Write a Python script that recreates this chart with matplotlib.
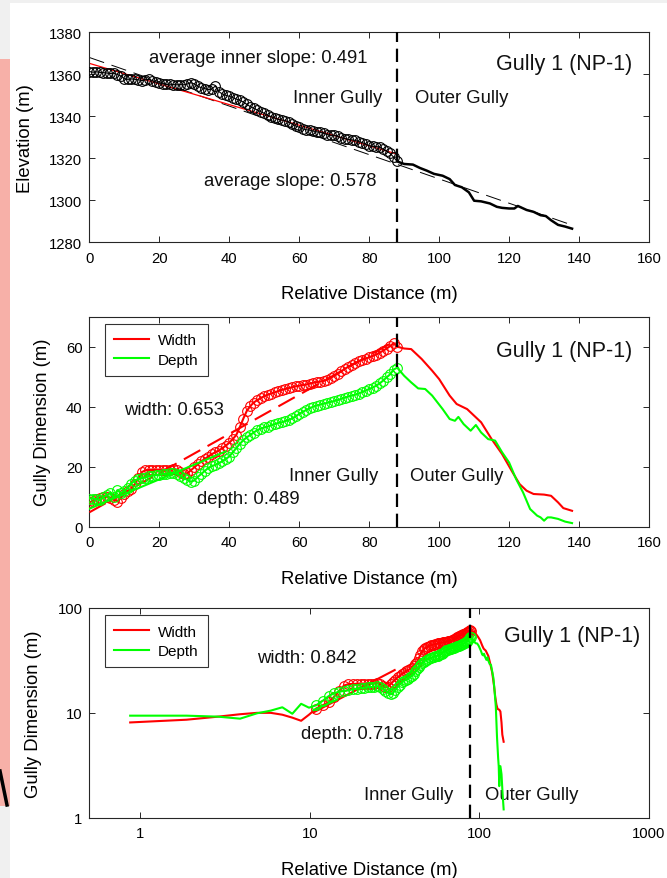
import matplotlib
matplotlib.use("Agg")
import matplotlib.pyplot as plt
from matplotlib.lines import Line2D
from matplotlib.patches import Rectangle
import numpy as np

plt.rcParams['font.family'] = ['Liberation Sans', 'DejaVu Sans']

# ---- data ----
# inner gully samples (m along the gully)
inner_dist = [0, 1, 2, 3, 4, 5, 6, 7, 8, 9, 10, 11, 12, 13, 14, 15, 16, 17, 18, 19,
              20, 21, 22, 23, 24, 25, 26, 27, 28, 29, 30, 31, 32, 33, 34, 35, 36, 37, 38, 39,
              40, 41, 42, 43, 44, 45, 46, 47, 48, 49, 50, 51, 52, 53, 54, 55, 56, 57, 58, 59,
              60, 61, 62, 63, 64, 65, 66, 67, 68, 69, 70, 71, 72, 73, 74, 75, 76, 77, 78, 79,
              80, 81, 82, 83, 84, 85, 86, 87, 88]

inner_elev = [1361.3, 1361.0, 1361.2, 1360.9, 1360.8, 1360.6, 1360.4, 1360.5, 1359.9, 1359.2,
              1357.9, 1357.6, 1357.8, 1357.6, 1357.4, 1357.0, 1357.4, 1357.6, 1357.0, 1356.3,
              1355.8, 1355.5, 1355.2, 1355.3, 1355.1, 1355.0, 1355.1, 1355.0, 1355.4, 1356.0,
              1355.4, 1354.3, 1353.6, 1353.2, 1352.7, 1353.0, 1354.4, 1351.8, 1350.6, 1350.0,
              1349.5, 1348.9, 1348.2, 1347.6, 1346.8, 1345.7, 1344.6, 1343.8, 1343.0, 1342.2,
              1341.4, 1340.5, 1339.8, 1339.2, 1338.5, 1338.2, 1338.0, 1337.2, 1336.3, 1335.4,
              1334.8, 1334.0, 1333.6, 1333.4, 1333.0, 1332.6, 1332.4, 1331.9, 1331.3, 1330.9,
              1331.0, 1330.4, 1329.8, 1329.4, 1329.0, 1328.8, 1328.5, 1328.0, 1327.5, 1326.8,
              1326.0, 1325.7, 1325.6, 1325.3, 1324.4, 1323.4, 1322.3, 1320.5, 1318.5]

inner_width = [8.1, 8.6, 9.2, 9.7, 10.0, 10.0, 9.6, 9.0, 8.4, 9.6,
               11.0, 11.8, 12.6, 14.2, 16.2, 18.2, 18.8, 18.9, 18.9, 18.9,
               18.9, 18.9, 19.0, 19.0, 19.2, 19.0, 18.2, 17.6, 17.8, 18.8,
               19.8, 20.8, 21.8, 22.6, 23.4, 24.2, 24.8, 25.4, 26.2, 27.0,
               28.0, 29.2, 30.6, 33.2, 36.0, 38.6, 40.2, 41.4, 42.2, 42.9,
               43.5, 44.0, 44.4, 44.8, 45.2, 45.6, 45.9, 46.2, 46.5, 46.8,
               47.0, 47.2, 47.4, 47.7, 48.0, 48.2, 48.4, 48.6, 49.0, 49.6,
               50.3, 51.0, 51.8, 52.6, 53.3, 54.0, 54.6, 55.1, 55.6, 56.0,
               56.5, 56.9, 57.4, 58.0, 58.7, 59.4, 60.2, 61.2, 60.0]

inner_depth = [9.4, 9.4, 9.2, 8.8, 9.9, 10.5, 11.3, 9.8, 12.2, 11.2,
               11.8, 13.0, 14.4, 15.4, 15.9, 16.2, 16.4, 16.8, 17.0, 17.2,
               17.3, 17.5, 17.6, 17.8, 18.0, 17.6, 17.0, 16.2, 15.6, 15.0,
               15.4, 16.6, 17.6, 18.6, 19.6, 20.2, 20.6, 21.2, 21.8, 22.6,
               23.4, 24.8, 26.2, 27.6, 28.8, 29.8, 30.6, 31.4, 32.2, 32.7,
               33.1, 33.4, 33.8, 34.2, 34.6, 34.8, 35.2, 35.6, 36.1, 36.8,
               37.6, 38.3, 38.9, 39.5, 40.0, 40.4, 40.7, 41.0, 41.3, 41.6,
               41.9, 42.2, 42.6, 43.0, 43.4, 43.7, 44.0, 44.4, 44.9, 45.4,
               45.9, 46.4, 47.0, 47.8, 48.7, 49.8, 50.8, 52.4, 53.0]

# outer gully
outer_dist_elev = [88, 90, 92.5, 94.5, 96.5, 98.5, 101, 103, 104.5, 106.5, 108.5, 110, 112,
                   114.5, 116.5, 118, 120, 121.5, 122.5, 125, 127, 129, 130.5, 132, 134, 136, 138]
outer_elev = [1318.5, 1317.3, 1317.0, 1315.4, 1314.1, 1312.6, 1311.7, 1310.1, 1307.3, 1306.2,
              1303.8, 1299.8, 1299.5, 1298.5, 1296.9, 1296.4, 1296.1, 1296.1, 1297.3, 1295.4,
              1294.5, 1292.9, 1292.5, 1290.5, 1288.3, 1287.5, 1286.5]

outer_dist_width = [88, 90, 92, 95, 98, 100, 103, 105, 108, 112, 115, 118, 121, 123, 125,
                    127, 130, 132, 134, 135.5, 138]
outer_width = [60.0, 59.4, 59.2, 55.9, 52.0, 49.2, 43.7, 40.9, 39.2, 34.8, 29.2, 24.2, 18.1,
               14.2, 12.0, 10.9, 10.7, 10.3, 8.1, 6.2, 5.3]

outer_dist_depth = [88, 90, 92, 94, 96, 98, 101, 103, 104.5, 105.5, 107, 109, 110.5, 112, 114,
                    116, 118, 120, 122, 124, 126, 128, 129, 130, 131, 132, 134, 136, 138]
outer_depth = [53.0, 50.3, 48.1, 46.1, 45.9, 43.7, 39.2, 35.9, 35.3, 36.6, 34.2, 32.0, 33.9,
               31.4, 29.2, 28.7, 24.8, 21.4, 15.9, 11.4, 5.9, 3.7, 3.1, 2.0, 3.1, 3.1, 2.6,
               1.7, 1.2]

# fitted lines (end points)
fit_all_x, fit_all_y = [0, 138], [1368.0, 1288.2]        # average slope 0.578
fit_inner_x, fit_inner_y = [0, 88], [1365.2, 1322.0]     # average inner slope 0.491
fit_w_x, fit_w_y = [0, 88], [4.8, 62.3]                  # width 0.653
fit_d_x, fit_d_y = [0, 39], [6.0, 25.1]                  # depth 0.489
fit_wlog_x, fit_wlog_y = [10.5, 31.6], [10.1, 25.6]      # width 0.842
fit_dlog_x, fit_dlog_y = [10.5, 14.5], [10.6, 13.4]      # depth 0.718

boundary = 88
log_offset = 0.87   # first sample sits at 0.87 m on the log plot

RED = (1, 0, 0)
GREEN = (0, 1, 0)
AX_COL = '#262626'

# ---- figure ----
W, H = 667, 879
fig = plt.figure(figsize=(W / 100, H / 100), dpi=100, facecolor='white')

# screenshot background bits
fig.patches.append(Rectangle((0, 1 - 3.5 / H), 1, 3.5 / H, transform=fig.transFigure,
                             facecolor='#f0f0f0', edgecolor='none', zorder=-5))
fig.patches.append(Rectangle((0, 0), 10 / W, 1, transform=fig.transFigure,
                             facecolor='#f0f0f0', edgecolor='none', zorder=-5))
fig.patches.append(Rectangle((0, (H - 807) / H), 10 / W, (807 - 60) / H,
                             transform=fig.transFigure, facecolor='#f7b0a8',
                             edgecolor='none', zorder=-4))
fig.lines.append(Line2D([0, 7 / W], [(H - 772) / H, (H - 806) / H], transform=fig.transFigure,
                        color='black', lw=2.5))


def make_axes(top_px, bottom_px):
    left, right = 89.4, 649
    ax = fig.add_axes([left / W, (H - bottom_px) / H, (right - left) / W, (bottom_px - top_px) / H])
    for s in ax.spines.values():
        s.set_color(AX_COL)
        s.set_linewidth(0.8)
    ax.tick_params(direction='in', top=True, right=True, length=4, width=0.7,
                   labelsize=10.7, colors=AX_COL, labelcolor='black', pad=6)
    ax.tick_params(axis='y', pad=5)
    ax.set_xlabel('Relative Distance (m)', fontsize=13.3, labelpad=15)
    return ax


txt = dict(fontsize=13.3, color='#111111')
MS, MEW = 7, 0.8

# ---- panel 1: elevation ----
ax1 = make_axes(33.3, 243.3)
ax1.plot(fit_all_x, fit_all_y, color='black', lw=0.7, ls=(0, (16, 8)), zorder=2)
ax1.plot(fit_inner_x, fit_inner_y, color=RED, lw=0.9, zorder=2)
ax1.plot(inner_dist, inner_elev, '-o', color='black', lw=0.8, ms=MS, mfc='none', mew=MEW, zorder=3)
ax1.plot(outer_dist_elev, outer_elev, color='black', lw=1.8, zorder=3)
ax1.axvline(boundary, color='black', lw=1.6, ls=(0, (6, 3)), zorder=4)
ax1.set_xlim(0, 160)
ax1.set_ylim(1280, 1380)
ax1.set_xticks(range(0, 161, 20))
ax1.set_yticks(range(1280, 1381, 20))
ax1.set_ylabel('Elevation (m)', fontsize=13.3, labelpad=11)
ax1.text(17, 1368, 'average inner slope: 0.491', va='center', **txt)
ax1.text(58.1, 1349, 'Inner Gully', va='center', **txt)
ax1.text(93, 1349, 'Outer Gully', va='center', **txt)
ax1.text(32.8, 1309.3, 'average slope: 0.578', va='center', **txt)
ax1.text(155.3, 1365, 'Gully 1 (NP-1)', va='center', ha='right', fontsize=15.5, color='#111111')

# ---- panel 2: width / depth, linear ----
ax2 = make_axes(317.7, 527.7)
ax2.plot(inner_dist + outer_dist_width[1:], inner_width + outer_width[1:], color=RED, lw=1.5, zorder=3)
ax2.plot(inner_dist, inner_width, 'o', color=RED, ms=MS, mfc='none', mew=MEW, zorder=3)
ax2.plot(fit_w_x, fit_w_y, color=RED, lw=1.5, ls=(0, (9, 4)), zorder=3)
ax2.plot(inner_dist + outer_dist_depth[1:], inner_depth + outer_depth[1:], color=GREEN, lw=1.5, zorder=4)
ax2.plot(inner_dist, inner_depth, 'o', color=GREEN, ms=MS, mfc='none', mew=MEW, zorder=4)
ax2.plot(fit_d_x, fit_d_y, color=GREEN, lw=1.5, zorder=4)
ax2.axvline(boundary, color='black', lw=1.6, ls=(0, (6, 3)), zorder=5)
ax2.set_xlim(0, 160)
ax2.set_ylim(0, 70)
ax2.set_xticks(range(0, 161, 20))
ax2.set_yticks([0, 20, 40, 60])
ax2.set_ylabel('Gully Dimension (m)', fontsize=13.3, labelpad=11)
ax2.text(10, 39.2, 'width: 0.653', va='center', **txt)
ax2.text(30.7, 9.5, 'depth: 0.489', va='center', **txt)
ax2.text(57.1, 17.2, 'Inner Gully', va='center', **txt)
ax2.text(91.8, 17.2, 'Outer Gully', va='center', **txt)
ax2.text(155.3, 58.9, 'Gully 1 (NP-1)', va='center', ha='right', fontsize=15.5, color='#111111')

handles = [Line2D([], [], color=RED, lw=1.5), Line2D([], [], color=GREEN, lw=1.5)]


def add_legend(ax):
    leg = ax.legend(handles, ['Width', 'Depth'], loc='upper left', bbox_to_anchor=(0.027, 0.965),
                    fontsize=11, frameon=True, fancybox=False, edgecolor='black',
                    handlelength=2.3, borderpad=0.6, labelspacing=0.35, handletextpad=0.6,
                    borderaxespad=0)
    leg.get_frame().set_linewidth(0.8)


add_legend(ax2)

# ---- panel 3: log-log ----
ax3 = make_axes(609, 818.7)
ax3.set_xscale('log')
ax3.set_yscale('log')
lw_x = [d + log_offset for d in inner_dist + outer_dist_width[1:]]
ld_x = [d + log_offset for d in inner_dist + outer_dist_depth[1:]]
mk_x = [d + log_offset for d in inner_dist[10:]]
ax3.plot(lw_x, inner_width + outer_width[1:], color=RED, lw=1.5, zorder=3)
ax3.plot(mk_x, inner_width[10:], 'o', color=RED, ms=MS, mfc='none', mew=MEW, zorder=3)
ax3.plot(fit_wlog_x, fit_wlog_y, color=RED, lw=1.5, zorder=3)
ax3.plot(ld_x, inner_depth + outer_depth[1:], color=GREEN, lw=1.5, zorder=4)
ax3.plot(mk_x, inner_depth[10:], 'o', color=GREEN, ms=MS, mfc='none', mew=MEW, zorder=4)
ax3.plot(fit_dlog_x, fit_dlog_y, color=GREEN, lw=1.5, zorder=4)
ax3.axvline(boundary, color='black', lw=1.6, ls=(0, (6, 3)), zorder=5)
ax3.set_xlim(0.5, 1000)
ax3.set_ylim(1, 100)
ax3.set_xticks([1, 10, 100, 1000])
ax3.set_xticklabels(['1', '10', '100', '1000'])
ax3.set_yticks([1, 10, 100])
ax3.set_yticklabels(['1', '10', '100'])
ax3.minorticks_off()
ax3.set_ylabel('Gully Dimension (m)', fontsize=13.3, labelpad=11)
ax3.text(4.85, 33.9, 'width: 0.842', va='center', **txt)
ax3.text(8.84, 6.29, 'depth: 0.718', va='center', **txt)
ax3.text(20.7, 1.65, 'Inner Gully', va='center', **txt)
ax3.text(108.4, 1.65, 'Outer Gully', va='center', **txt)
ax3.text(889, 54.4, 'Gully 1 (NP-1)', va='center', ha='right', fontsize=15.5, color='#111111')
add_legend(ax3)

fig.savefig('out.png', dpi=100, facecolor=fig.get_facecolor())
